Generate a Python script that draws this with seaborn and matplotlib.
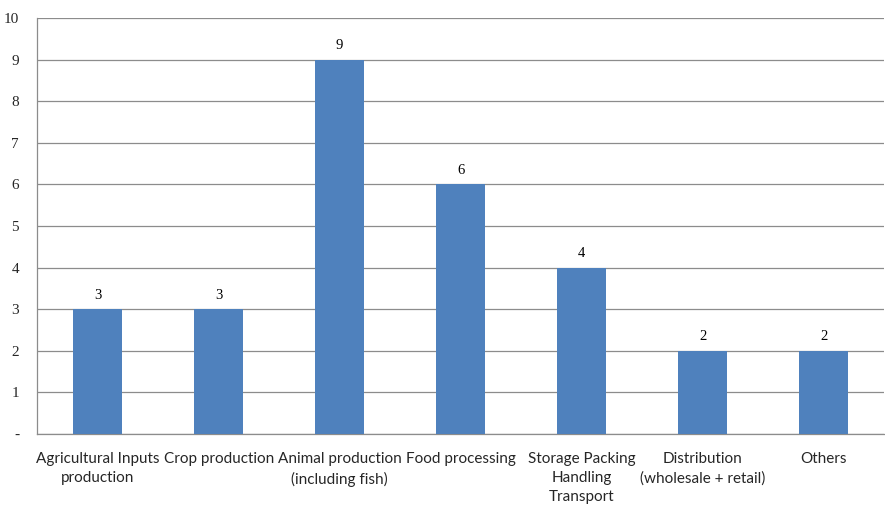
import matplotlib
matplotlib.use("Agg")
import matplotlib.pyplot as plt
import seaborn as sns
import pandas as pd
import numpy as np

# Data
categories = ["Agricultural Inputs\nproduction", "Crop production",
              "Animal production\n(including fish)", "Food processing",
              "Storage Packing\nHandling\nTransport",
              "Distribution\n(wholesale + retail)", "Others"]
counts = [3, 3, 9, 6, 4, 2, 2]
y_ticks = list(range(0, 11))
y_tick_labels = ["-"] + [str(v) for v in range(1, 11)]

df = pd.DataFrame({"category": categories, "count": counts})

sns.set_style("white")
fig = plt.figure(figsize=(8.85, 5.05), dpi=100)
ax = fig.add_axes([0.042, 0.1406, 0.957, 0.8238])

sns.barplot(data=df, x="category", y="count", color="#4F81BD",
            saturation=1, width=0.4, linewidth=0, ax=ax, zorder=3)

# Value labels
for i, v in enumerate(counts):
    ax.text(i, v + 0.18, str(v), ha="center", va="bottom",
            fontsize=10.5, family="Liberation Serif", color="black")

ax.set_ylim(0, 10)
ax.set_xlim(-0.5, len(categories) - 0.5)
ax.set_yticks(y_ticks)
ax.set_yticklabels(y_tick_labels, family="Liberation Serif", fontsize=11)
ax.set_xticks(range(len(categories)))
ax.set_xticklabels(categories, family="Lato", fontsize=11, linespacing=1.45)
ax.tick_params(axis="x", length=0, pad=13)
ax.tick_params(axis="y", length=5, color="#888888", pad=8, direction="out")

# Category boundary ticks
ax.set_xticks(np.arange(-0.5, len(categories), 1), minor=True)
ax.tick_params(axis="x", which="minor", length=5, color="#888888", direction="out")

ax.yaxis.grid(True, color="#8C8C8C", linewidth=0.9, zorder=0)
ax.set_axisbelow(True)
for side in ["top", "right"]:
    ax.spines[side].set_visible(False)
for side in ["left", "bottom"]:
    ax.spines[side].set_color("#8C8C8C")
    ax.spines[side].set_linewidth(0.9)
ax.set_xlabel("")
ax.set_ylabel("")

fig.savefig("out.png", dpi=100)
